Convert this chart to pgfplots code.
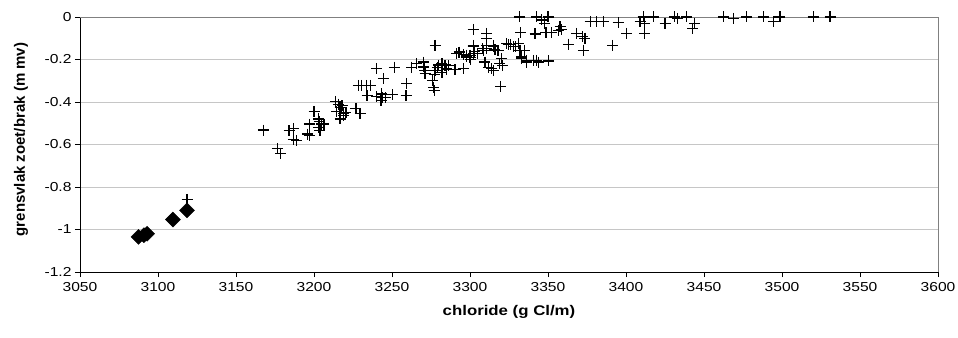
\documentclass[border=0pt]{standalone}
\usepackage{pgfplots}
\pgfplotsset{compat=1.18}
\usepackage{fontspec}
\setmainfont{Liberation Sans}[FakeStretch=1.2]
\newfontfamily\yfont{Liberation Sans}
\begin{document}
\begin{tikzpicture}
\path[use as bounding box] (0,0) rectangle (958bp,338bp);
\begin{axis}[
  at={(80bp,66bp)}, anchor=south west,
  scale only axis, width=858bp, height=255bp,
  xmin=3050, xmax=3600, ymin=-1.2, ymax=0,
  xtick distance=50, ytick distance=0.2,
  axis x line*=bottom, axis y line*=left,
  axis line style={black, line width=0.8bp, -},
  tick align=outside, major tick length=5bp,
  tick style={black, line width=0.8bp},
  ymajorgrids, grid style={gray!45, line width=0.8bp},
  /pgf/number format/assume math mode=true,
  /pgf/number format/1000 sep={},
  yticklabel style={/pgf/number format/fixed, /pgf/number format/precision=1, font=\fontsize{13bp}{15bp}\selectfont},
  xticklabel style={font=\fontsize{13bp}{15bp}\selectfont, yshift=-2bp},
  every axis x label/.style={at={(axis description cs:0.5,0)}, anchor=center, yshift=-40bp, font=\bfseries\fontsize{14bp}{16bp}\selectfont},
  every axis y label/.style={at={(axis description cs:0,0.5)}, xshift=-59bp, yshift=5bp, rotate=90, anchor=center, font=\yfont\bfseries\fontsize{15bp}{17bp}\selectfont},
  xlabel={chloride (g Cl/m)},
  ylabel={grensvlak zoet/brak (m mv)},
  clip=false,
]
\draw[gray, line width=0.8bp] (rel axis cs:0,1) -- (rel axis cs:1,1) -- (rel axis cs:1,0);
\addplot[only marks, mark=+, mark size=5.5bp, line width=1.2bp, black] coordinates {
(3118.6,-0.858)
(3167.5,-0.532) (3176.5,-0.619) (3178.6,-0.641) (3184,-0.536) (3186.7,-0.525)
(3186.7,-0.578) (3189,-0.583) (3195.7,-0.551) (3197,-0.556) (3197,-0.504)
(3200,-0.444) (3203.4,-0.491) (3203.8,-0.536) (3205,-0.504) (3206.4,-0.504)
(3202.8,-0.52) (3202.8,-0.48) (3213.7,-0.397) (3214.5,-0.444) (3216.7,-0.48)
(3218,-0.417) (3218.8,-0.456) (3220.5,-0.449) (3216.7,-0.425) (3215.5,-0.41)
(3219,-0.465) (3226.9,-0.43) (3229.5,-0.453) (3234,-0.37) (3240,-0.374)
(3243.4,-0.362) (3243,-0.393) (3250.4,-0.365) (3228.4,-0.322) (3230.5,-0.322)
(3233.8,-0.322) (3236,-0.322) (3244.4,-0.29) (3244,-0.38) (3246,-0.38)
(3259.4,-0.314) (3259,-0.37) (3240.2,-0.243) (3251.6,-0.236) (3262.6,-0.236)
(3265.6,-0.219) (3270,-0.212) (3270.5,-0.235) (3271,-0.25) (3271.2,-0.265)
(3277.6,-0.251) (3279,-0.237) (3280,-0.226) (3282,-0.22) (3284,-0.226)
(3285,-0.245) (3277,-0.27) (3276,-0.3) (3276.5,-0.33) (3277,-0.345)
(3282,-0.26) (3286,-0.228) (3295.7,-0.243) (3290.4,-0.248) (3277.6,-0.133)
(3291.4,-0.172) (3293,-0.165) (3296,-0.178) (3298,-0.188) (3300,-0.19)
(3300.5,-0.2) (3302,-0.172) (3303,-0.164) (3302,-0.133) (3302,-0.058)
(3305,-0.17) (3308,-0.15) (3309.6,-0.212) (3310.7,-0.077) (3310.7,-0.1)
(3310.5,-0.135) (3311.7,-0.236) (3314,-0.243) (3315,-0.251) (3315,-0.133)
(3316,-0.155) (3318,-0.158) (3319,-0.22) (3319.7,-0.327) (3320.3,-0.196)
(3321,-0.23) (3323.5,-0.125) (3326,-0.13) (3328,-0.14) (3331,-0.125)
(3332,-0.156) (3331.6,0) (3332.5,-0.074) (3333,-0.188) (3333,-0.196)
(3336,-0.212) (3336.3,-0.204) (3340.6,-0.204) (3341.7,-0.08) (3342.7,0)
(3342.7,-0.204) (3343.8,-0.212) (3346,-0.014) (3348,-0.03) (3348.7,-0.074)
(3350,0) (3350.2,-0.207) (3352,-0.074) (3356.6,-0.062) (3357.7,-0.046)
(3358.5,-0.06) (3363,-0.128) (3368.4,-0.077) (3372,-0.093) (3372.6,-0.156)
(3373.7,-0.1) (3377,-0.022) (3381,-0.022) (3385.4,-0.022) (3391.5,-0.133)
(3395,-0.027) (3400.4,-0.077) (3409,-0.022) (3411,0) (3412,-0.03)
(3412,-0.077) (3417.5,0) (3425,-0.03) (3431,0) (3433,-0.006)
(3439,0) (3444,-0.03) (3442.7,-0.054) (3462.4,0) (3468.8,-0.006)
(3477.4,0) (3488,0) (3494.4,-0.022) (3498.7,0) (3520,0) (3530.8,0)
(3324.5,-0.13) (3329,-0.14) (3335,-0.156) (3315,-0.14) (3310.7,-0.148)
(3308.5,-0.156) (3302,-0.14) (3297.9,-0.18) (3300,-0.18)
};
\addplot[only marks, mark=square*, mark size=5.3bp, mark options={rotate=45}, black] coordinates {
(3087.5,-1.035) (3091,-1.027) (3093,-1.02) (3109.6,-0.953) (3118.6,-0.91)
};
\end{axis}
\end{tikzpicture}
\end{document}
